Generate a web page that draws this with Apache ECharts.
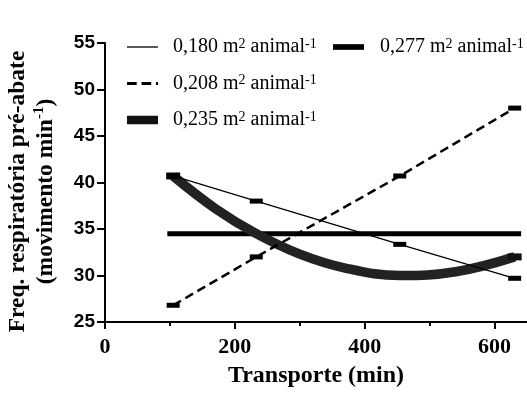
<!DOCTYPE html>
<html><head><meta charset="utf-8">
<script src="https://cdn.jsdelivr.net/npm/echarts@6/dist/echarts.min.js"></script>
<style>html,body{margin:0;padding:0;background:#fff}#c{width:527px;height:394px}</style>
</head><body><div id="c"></div>
<script>
// ---- data ----
const pointX = [105, 233, 454, 631];                 // transport time (min)
const s180 = [40.7, 38.0, 33.35, 29.7];             // 0,180 m2 animal-1
const s208 = [26.8, 32.0, 40.7, 48.0];              // 0,208 m2 animal-1
const curveX = [105, 170, 233, 300, 370, 454, 540, 631];
const s235 = [40.7, 37.2, 34.5, 32.3, 30.8, 30.0, 30.4, 32.0]; // 0,235 (curve)
const flatX = [96, 641];
const s277 = [34.5, 34.5];                           // 0,277 (flat)
const seriesNames = ['0,180', '0,208', '0,235', '0,277'];
const xTicks = [0, 200, 400, 600];
const xMinorTicks = [100, 300, 500];
const yMin = 25, yMax = 55, yStep = 5;
const xMin = 0, xMax = 650;

const zip = (xs, ys) => xs.map((x, i) => [x, ys[i]]);
const serif = 'Liberation Serif';
const legendFmt = n => `{t|${n} m}{s|2}{t| animal}{s|-1}`;
const legendRich = {
  t: { fontFamily: serif, fontSize: 20, color: '#000' },
  s: { fontFamily: serif, fontSize: 14, color: '#000', verticalAlign: 'top' }
};
const icons = {
  '0,180': 'path://M0,0H31V1.3H0Z',
  '0,208': 'path://M0,0H10V3H0Z M15,0H25V3H15Z M30,0H32V3H30Z',
  '0,235': 'path://M0,0H31V8.5H0Z',
  '0,277': 'path://M0,0H30V5.5H0Z'
};
const legendBase = {
  orient: 'vertical', top: 37, padding: 0, itemWidth: 31, itemHeight: 24, itemGap: 13,
  formatter: legendFmt, selectedMode: false,
  itemStyle: { borderWidth: 0 },
  textStyle: { rich: legendRich }
};

const chart = echarts.init(document.getElementById('c'));
chart.setOption({
  animation: false,
  backgroundColor: '#fff',
  grid: { left: 105, right: 0, top: 43, bottom: 72, outerBoundsMode: 'none' },
  legend: [
    Object.assign({}, legendBase, { left: 127, itemGap: 16.5,
      textStyle: { rich: legendRich, padding: [0, 0, 0, 10] },
      data: seriesNames.slice(0, 3).map(n => ({ name: n, icon: icons[n] })) }),
    Object.assign({}, legendBase, { left: 333,
      textStyle: { rich: legendRich, padding: [0, 0, 0, 11] },
      data: [{ name: seriesNames[3], icon: icons[seriesNames[3]] }] })
  ],
  xAxis: [{
    type: 'value', min: xMin, max: xMax, position: 'bottom',
    axisLine: { lineStyle: { color: '#000', width: 2 } },
    axisTick: { customValues: xTicks, length: 7, lineStyle: { width: 2, color: '#000' } },
    axisLabel: { customValues: xTicks, color: '#000', fontFamily: serif, fontWeight: 'bold', fontSize: 22, margin: 14 },
    splitLine: { show: false },
    name: 'Transporte (min)', nameLocation: 'middle', nameGap: 42,
    nameTextStyle: { fontFamily: serif, fontWeight: 'bold', fontSize: 24, color: '#000' }
  }, {
    type: 'value', min: xMin, max: xMax, position: 'bottom',
    axisLine: { show: false },
    axisTick: { customValues: xMinorTicks, length: 4, lineStyle: { width: 2, color: '#000' } },
    axisLabel: { show: false }, splitLine: { show: false }
  }],
  yAxis: {
    type: 'value', min: yMin, max: yMax, interval: yStep,
    axisLine: { show: true, lineStyle: { color: '#000', width: 2 } },
    axisTick: { show: true, length: 8, lineStyle: { width: 2, color: '#000' } },
    axisLabel: { color: '#000', fontFamily: 'Liberation Sans', fontWeight: 'bold', fontSize: 19, margin: 10 },
    splitLine: { show: false },
    name: '{a|Freq. respiratória pré-abate}\n{a|(movimento min}{b|-1}{a|)}',
    nameLocation: 'middle', nameRotate: 90, nameGap: 45,
    nameTextStyle: {
      align: 'center',
      padding: [0, 18, 0, 0],
      rich: {
        a: { fontFamily: serif, fontWeight: 'bold', fontSize: 23.5, lineHeight: 28, color: '#000', align: 'center' },
        b: { fontFamily: serif, fontWeight: 'bold', fontSize: 15, lineHeight: 16, color: '#000', verticalAlign: 'top', align: 'center' }
      }
    }
  },
  series: [
    { name: seriesNames[0], type: 'line', data: zip(pointX, s180), symbol: 'rect', symbolSize: [13, 5],
      lineStyle: { color: '#000', width: 1.3 }, itemStyle: { color: '#000' }, z: 4 },
    { name: seriesNames[1], type: 'line', data: zip(pointX, s208), symbol: 'rect', symbolSize: [13, 5],
      lineStyle: { color: '#000', width: 2.5, type: [9, 5] }, itemStyle: { color: '#000' }, z: 4 },
    { name: seriesNames[2], type: 'line', data: zip(curveX, s235), smooth: 0.4,
      symbol: (v, p) => (p.dataIndex === 0 || p.dataIndex === curveX.length - 1) ? 'rect' : 'none',
      symbolSize: [14, 7],
      lineStyle: { color: '#222', width: 9.5 }, itemStyle: { color: '#111' }, z: 3 },
    { name: seriesNames[3], type: 'line', data: zip(flatX, s277), symbol: 'none',
      lineStyle: { color: '#000', width: 5 }, itemStyle: { color: '#000' }, z: 2 }
  ]
});
</script></body></html>
